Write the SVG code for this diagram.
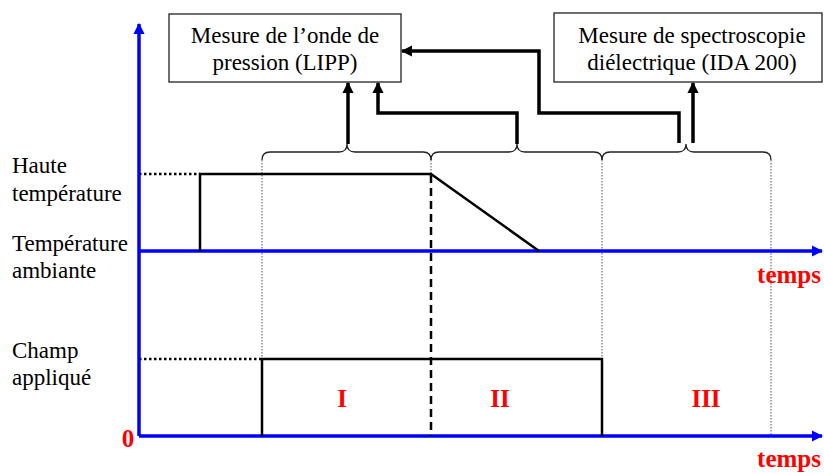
<svg xmlns="http://www.w3.org/2000/svg" width="824" height="473" viewBox="0 0 824 473">
<style>
.lbl{font-family:"Liberation Serif","Times New Roman",serif;font-size:23px;fill:#000}
.red{font-family:"Liberation Serif","Times New Roman",serif;font-size:25px;font-weight:bold;fill:#ff0000}
.box{fill:#fff;stroke:#222;stroke-width:1.3}
.axis{stroke:#0000ff;stroke-width:3.5;fill:none}
.sig{stroke:#000;stroke-width:2.5;fill:none}
.thin{stroke:#555;stroke-width:1;stroke-dasharray:1.5 1.5;fill:none}
.dot{stroke:#000;stroke-width:2.5;stroke-dasharray:2.5 2.5;fill:none}
.brace{stroke:#222;stroke-width:1.3;fill:none}
.conn{stroke:#000;stroke-width:3.5;fill:none}
</style>
<defs>
<marker id="ah" viewBox="0 0 10 10" refX="9" refY="5" markerWidth="3.2" markerHeight="3.2" orient="auto" markerUnits="strokeWidth">
<path d="M0,0 L10,5 L0,10 z" fill="#000"/>
</marker>
<marker id="ab" viewBox="0 0 10 10" refX="9" refY="5" markerWidth="3.2" markerHeight="3.2" orient="auto" markerUnits="strokeWidth">
<path d="M0,0 L10,5 L0,10 z" fill="#0000ff"/>
</marker>
</defs>

<g id="guides">
<path class="thin" d="M262,160 V436 M431,160 V175 M602,160 V436 M771,160 V436"/>
<path class="dot" d="M139,174 H200 M139,359 H262"/>
</g>

<g id="axes">
<line class="axis" x1="139" y1="436" x2="139" y2="24" marker-end="url(#ab)"/>
<line class="axis" x1="139" y1="251" x2="822" y2="251" marker-end="url(#ab)"/>
<line class="axis" x1="139" y1="436" x2="822" y2="436" marker-end="url(#ab)"/>
</g>

<g id="signals">
<path class="sig" d="M200,251 V174 H431 L539,251"/>
<path class="sig" d="M262,436 V359 H602 V436"/>
<line x1="431" y1="175" x2="431" y2="436" stroke="#000" stroke-width="2.5" stroke-dasharray="8 5"/>
</g>

<g id="braces">
<path class="brace" d="M262,160 Q262,152 270,152 L339,152 Q347,152 347,144 Q347,152 355,152 L423,152 Q431,152 431,160"/>
<path class="brace" d="M431,160 Q431,152 439,152 L509,152 Q517,152 517,144 Q517,152 525,152 L594,152 Q602,152 602,160"/>
<path class="brace" d="M602,160 Q602,152 610,152 L678,152 Q686,152 686,144 Q686,152 694,152 L763,152 Q771,152 771,160"/>
</g>

<g id="box-lipp">
<rect class="box" x="169" y="14" width="232" height="68"/>
<text class="lbl" x="285" y="43" text-anchor="middle">Mesure de l’onde de</text>
<text class="lbl" x="285" y="70" text-anchor="middle">pression (LIPP)</text>
</g>

<g id="box-ida">
<rect class="box" x="554" y="13" width="268" height="69"/>
<text class="lbl" x="692" y="43" text-anchor="middle">Mesure de spectroscopie</text>
<text class="lbl" x="692" y="70" text-anchor="middle">diélectrique (IDA 200)</text>
</g>

<g id="connectors">
<path class="conn" d="M348,144 V83" marker-end="url(#ah)"/>
<path class="conn" d="M517,144 V113 H378 V83" marker-end="url(#ah)"/>
<path class="conn" d="M679,143 V113 H539 V51 H402" marker-end="url(#ah)"/>
<path class="conn" d="M693,143 V83" marker-end="url(#ah)"/>
</g>

<g id="labels">
<text class="lbl" x="12" y="173">Haute</text>
<text class="lbl" x="12" y="201">température</text>
<text class="lbl" x="12" y="251">Température</text>
<text class="lbl" x="12" y="278">ambiante</text>
<text class="lbl" x="12" y="358">Champ</text>
<text class="lbl" x="12" y="385">appliqué</text>
<text class="red" x="821" y="283" text-anchor="end">temps</text>
<text class="red" x="821" y="467" text-anchor="end">temps</text>
<text class="red" x="128" y="447" text-anchor="middle">0</text>
<text class="red" x="342" y="407" text-anchor="middle">I</text>
<text class="red" x="500" y="407" text-anchor="middle">II</text>
<text class="red" x="706" y="407" text-anchor="middle">III</text>
</g>
</svg>
